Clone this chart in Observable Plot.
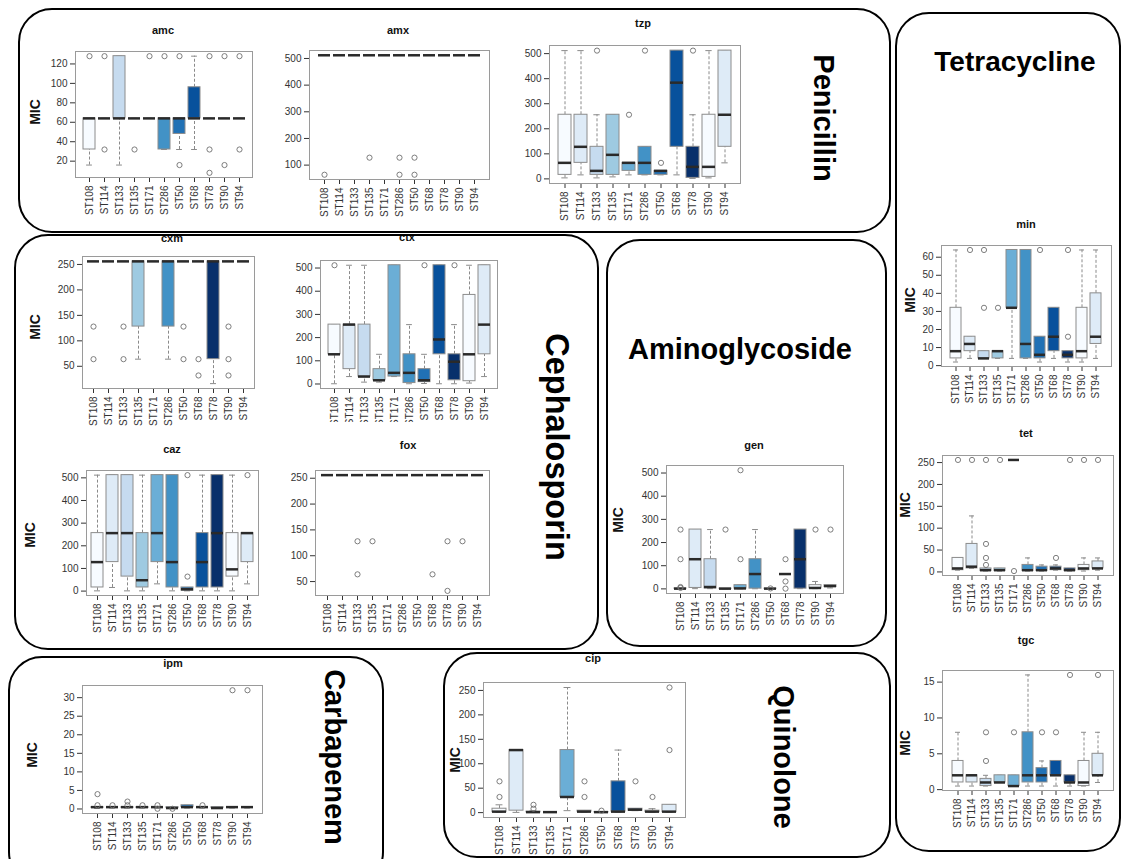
<!DOCTYPE html>
<html><head><meta charset="utf-8">
<script src="https://cdn.jsdelivr.net/npm/d3@7"></script>
<script src="https://cdn.jsdelivr.net/npm/@observablehq/plot@0.6"></script>
<style>
body{margin:0;background:#fff;font-family:"Liberation Sans",Arial,sans-serif}
#root{position:relative;width:1122px;height:859px;overflow:hidden;background:#fff}
.grp{position:absolute;left:0;top:0;width:1122px;height:859px}
.panel{position:absolute;border:2px solid #000;border-radius:34px;box-sizing:border-box}
.glabel{position:absolute;font-weight:bold;font-size:29px;white-space:nowrap;transform:translate(-50%,-50%);color:#000}
.rot{transform:translate(-50%,-50%) rotate(90deg)}
.ptitle{position:absolute;font-weight:bold;font-size:11px;transform:translate(-50%,-50%);color:#111;white-space:nowrap}
.mic{position:absolute;font-weight:bold;font-size:14px;transform:translate(-50%,-50%) rotate(-90deg);color:#111}
.pw{position:absolute}
</style></head><body><div id="root"></div>
<script>
const strains = ["ST108","ST114","ST133","ST135","ST171","ST286","ST50","ST68","ST78","ST90","ST94"];
const strainColors = ["#f7fbff","#deebf7","#c6dbef","#9ecae1","#6baed6","#4292c6","#2171b5","#08519c","#08306b","#f7fbff","#deebf7"];

// each row: [lower whisker, Q1, median, Q3, upper whisker] in strain order
const amc = [[16,32,64,64,64],[64,64,64,64,64],[16,64,64,128,128],[64,64,64,64,64],[64,64,64,64,64],[32,32,64,64,64],[32,48,64,64,64],[32,64,64,96,128],[64,64,64,64,64],[64,64,64,64,64],[64,64,64,64,64]];
const amcOut = [["ST108",128],["ST114",128],["ST114",32],["ST135",32],["ST171",128],["ST286",128],["ST50",128],["ST50",16],["ST78",128],["ST78",32],["ST78",8],["ST90",128],["ST90",16],["ST94",128],["ST94",32]];
const amcTicks = [20,40,60,80,100,120];

const amx = [[512,512,512,512,512],[512,512,512,512,512],[512,512,512,512,512],[512,512,512,512,512],[512,512,512,512,512],[512,512,512,512,512],[512,512,512,512,512],[512,512,512,512,512],[512,512,512,512,512],[512,512,512,512,512],[512,512,512,512,512]];
const amxOut = [["ST108",64],["ST135",128],["ST286",128],["ST286",64],["ST50",128],["ST50",64]];
const amxTicks = [100,200,300,400,500];

const tzp = [[4,16,64,256,512],[16,64,128,256,512],[4,16,32,128,256],[8,16,96,256,256],[16,32,64,64,64],[16,16,64,128,128],[16,16,32,32,32],[16,128,384,512,512],[2,4,48,128,256],[4,8,48,256,512],[64,128,256,512,512]];
const tzpOut = [["ST133",512],["ST171",256],["ST286",512],["ST50",64],["ST78",512]];
const tzpTicks = [0,100,200,300,400,500];

const cxm = [[256,256,256,256,256],[256,256,256,256,256],[256,256,256,256,256],[64,128,256,256,256],[256,256,256,256,256],[64,128,256,256,256],[256,256,256,256,256],[256,256,256,256,256],[16,64,256,256,256],[256,256,256,256,256],[256,256,256,256,256]];
const cxmOut = [["ST108",128],["ST108",64],["ST133",128],["ST133",64],["ST50",128],["ST50",64],["ST68",64],["ST68",32],["ST90",128],["ST90",64],["ST90",32]];
const cxmTicks = [50,100,150,200,250];

const ctx = [[1,128,128,256,256],[32,64,256,256,512],[8,32,32,256,512],[8,16,16,64,128],[32,32,48,512,512],[1,4,48,128,256],[2,8,16,64,128],[1,128,192,512,512],[1,16,96,128,256],[4,12,128,384,512],[32,128,256,512,512]];
const ctxOut = [["ST108",512],["ST50",512],["ST78",512]];
const ctxTicks = [0,100,200,300,400,500];

const caz = [[1,16,128,256,512],[16,128,256,512,512],[1,64,256,512,512],[1,16,48,256,512],[32,128,256,512,512],[1,16,128,512,512],[1,2,8,16,16],[1,16,128,256,512],[1,16,256,512,512],[1,64,96,256,512],[32,128,256,256,256]];
const cazOut = [["ST50",512],["ST50",64],["ST94",512]];
const cazTicks = [0,100,200,300,400,500];

const fox = [[256,256,256,256,256],[256,256,256,256,256],[256,256,256,256,256],[256,256,256,256,256],[256,256,256,256,256],[256,256,256,256,256],[256,256,256,256,256],[256,256,256,256,256],[256,256,256,256,256],[256,256,256,256,256],[256,256,256,256,256]];
const foxOut = [["ST133",128],["ST133",64],["ST135",128],["ST68",64],["ST78",128],["ST78",32],["ST90",128]];
const foxTicks = [50,100,150,200,250];

const gen = [[0.5,0.5,1,2,2],[1,4,128,256,256],[1,2,8,128,256],[0.5,0.5,1,1,1],[0.5,1,2,16,16],[0.5,1,64,128,256],[0.5,0.5,1,1,1],[64,64,64,64,64],[1,1,128,256,256],[1,2,4,16,32],[4,8,12,16,16]];
const genOut = [["ST108",256],["ST108",128],["ST108",8],["ST108",4],["ST135",256],["ST171",512],["ST171",128],["ST50",2],["ST68",128],["ST68",32],["ST68",1],["ST90",256],["ST94",256]];
const genTicks = [0,100,200,300,400,500];

const ipm = [[0.125,0.25,0.5,0.5,0.5],[0.25,0.5,0.5,0.5,0.5],[0.25,0.25,0.5,0.5,0.5],[0.25,0.25,0.5,0.5,0.5],[0.25,0.5,0.5,0.5,0.5],[0.125,0.25,0.25,0.5,0.5],[0.25,0.5,0.5,1,1],[0.25,0.5,0.5,0.5,0.5],[0.25,0.25,0.25,0.5,0.5],[0.25,0.5,0.5,0.5,0.5],[0.25,0.5,0.5,0.5,0.5]];
const ipmOut = [["ST108",4],["ST108",1],["ST114",1],["ST133",2],["ST133",1],["ST135",1],["ST171",1],["ST171",0.06],["ST286",0.06],["ST68",1],["ST90",32],["ST94",32]];
const ipmTicks = [0,5,10,15,20,25,30];

const cip = [[0.25,1,2,8,16],[0.5,4,128,128,128],[0.25,0.5,1,2,4],[0.5,1,1,1,1],[4,32,32,128,256],[1,2,2,4,4],[0.25,0.5,1,1,2],[1,2,2,64,128],[4,4,6,8,8],[0.5,1,2,4,8],[0.5,1,2,16,16]];
const cipOut = [["ST108",64],["ST108",32],["ST133",16],["ST133",8],["ST286",64],["ST286",32],["ST50",4],["ST78",64],["ST90",32],["ST94",256],["ST94",128]];
const cipTicks = [0,50,100,150,200,250];

const minc = [[2,4,8,32,64],[4,8,12,16,16],[4,4,4,8,8],[4,4,8,8,8],[4,32,32,64,64],[4,4,12,64,64],[2,4,6,16,16],[4,8,16,32,32],[2,4,6,8,8],[2,4,8,32,64],[4,12,16,40,64]];
const mincOut = [["ST114",64],["ST133",64],["ST133",32],["ST135",32],["ST50",64],["ST78",64],["ST78",16]];
const mincTicks = [0,10,20,30,40,50,60];

const tet = [[4,4,8,32,32],[8,8,12,64,128],[2,2,4,8,8],[2,2,4,8,8],[256,256,256,256,256],[2,2,4,16,32],[2,2,4,12,16],[4,4,8,12,16],[2,2,4,8,8],[2,4,8,16,32],[4,8,8,24,32]];
const tetOut = [["ST108",256],["ST114",256],["ST133",256],["ST133",64],["ST133",32],["ST133",16],["ST135",256],["ST171",2],["ST68",32],["ST78",256],["ST90",256],["ST94",256]];
const tetTicks = [0,50,100,150,200,250];

const tgc = [[0.5,1,2,4,8],[0.5,1,2,2,2],[0.5,0.5,1,1.5,2],[1,1,1,2,2],[0.5,0.5,0.5,2,2],[0.5,1,2,8,16],[0.5,1,2,3,4],[0.5,2,2,4,4],[0.5,1,1,2,2],[0.5,0.5,1,4,8],[1,2,2,5,8]];
const tgcOut = [["ST133",8],["ST133",4],["ST171",8],["ST50",8],["ST68",8],["ST78",16],["ST94",16]];
const tgcTicks = [0,5,10,15];

const groupNames = ["Penicillin","Cephalosporin","Aminoglycoside","Carbapenem","Quinolone","Tetracycline"];

// ---- layout (positions only) ----
const root = document.getElementById("root");
const panels = [
  {l:18,t:8,w:873,h:225},
  {l:14,t:234,w:585,h:416},
  {l:606,t:239,w:281,h:408},
  {l:8,t:656,w:376,h:230},
  {l:443,t:652,w:448,h:206},
  {l:895,t:12,w:226,h:840}
];
const glabels = [
  {x:823,y:118,rot:true,size:29},
  {x:556,y:447,rot:true,size:32.5},
  {x:740,y:349,rot:false,size:29},
  {x:334,y:757,rot:true,size:29},
  {x:783,y:757,rot:true,size:29},
  {x:1015,y:62,rot:false,size:28}
];
const plots = [
  {name:"amc", s:amc, o:amcOut, tk:amcTicks, f:[75,252,51,177], title:[163,30], mic:[35,112]},
  {name:"amx", s:amx, o:amxOut, tk:amxTicks, f:[309,489,50,179], title:[398,30]},
  {name:"tzp", s:tzp, o:tzpOut, tk:tzpTicks, f:[549,740,45,183], title:[643,23]},
  {name:"cxm", s:cxm, o:cxmOut, tk:cxmTicks, f:[82,254,256,388], title:[172,238], mic:[35,327], clip:[235,427]},
  {name:"ctx", s:ctx, o:ctxOut, tk:ctxTicks, f:[320,497,260,388], title:[407,237], clip:[235,422]},
  {name:"caz", s:caz, o:cazOut, tk:cazTicks, f:[86,258,470,595], title:[172,449], mic:[30,535]},
  {name:"fox", s:fox, o:foxOut, tk:foxTicks, f:[315,489,470,595], title:[408,445]},
  {name:"gen", s:gen, o:genOut, tk:genTicks, f:[666,843,465,593], title:[754,445], mic:[618,520]},
  {name:"ipm", s:ipm, o:ipmOut, tk:ipmTicks, f:[82,262,685,813], title:[173,663], mic:[32,755]},
  {name:"cip", s:cip, o:cipOut, tk:cipTicks, f:[483,685,682,817], title:[593,658], mic:[455,760]},
  {name:"min", s:minc, o:mincOut, tk:mincTicks, f:[941,1111,245,366], title:[1026,224], mic:[910,300]},
  {name:"tet", s:tet, o:tetOut, tk:tetTicks, f:[942,1113,455,575], title:[1026,433], mic:[905,505]},
  {name:"tgc", s:tgc, o:tgcOut, tk:tgcTicks, f:[942,1113,670,790], title:[1026,640], mic:[905,743]}
];

function boxPlot(p){
  const ml=36, mr=2, mt=4, mb=42;
  const [x0,x1,y0,y1] = p.f;
  const W = x1-x0, H = y1-y0;
  const rows = strains.map((s,i)=>({strain:s, lo:p.s[i][0], q1:p.s[i][1], med:p.s[i][2], q3:p.s[i][3], hi:p.s[i][4], color:strainColors[i]}));
  const outRows = p.o.map(([s,v])=>({strain:s, v}));
  const all = p.s.flat().concat(p.o.map(d=>d[1]));
  const mn = d3.min(all), mx = d3.max(all), r = mx-mn;
  const bw = W/11.44*0.8, cap = bw*0.25;
  const wcol = "#8a8a8a";
  const svg = Plot.plot({
    width: W+ml+mr, height: H+mt+mb,
    marginLeft: ml, marginRight: mr, marginTop: mt, marginBottom: mb,
    style: {fontFamily:'"Liberation Sans",Arial,sans-serif', fontSize:"10px", color:"#333", background:"transparent", overflow:"visible"},
    x: {type:"band", domain:strains, paddingInner:0.2, paddingOuter:0.32, label:null, tickRotate:-90, tickSize:5, tickPadding:3},
    y: {domain:[mn-0.04*r, mx+0.04*r], ticks:p.tk, label:null, tickSize:5, tickPadding:3},
    marks: [
      Plot.ruleX(rows, {x:"strain", y1:"q3", y2:"hi", stroke:wcol, strokeDasharray:"3,2"}),
      Plot.ruleX(rows, {x:"strain", y1:"lo", y2:"q1", stroke:wcol, strokeDasharray:"3,2"}),
      Plot.tickY(rows, {x:"strain", y:"hi", stroke:wcol, insetLeft:cap, insetRight:cap}),
      Plot.tickY(rows, {x:"strain", y:"lo", stroke:wcol, insetLeft:cap, insetRight:cap}),
      Plot.barY(rows, {x:"strain", y1:"q1", y2:"q3", fill:d=>d.color, stroke:"#8c8c8c", strokeWidth:1}),
      Plot.tickY(rows, {x:"strain", y:"med", stroke:"#2a2a2a", strokeWidth:2.5}),
      Plot.dot(outRows, {x:"strain", y:"v", r:2.6, stroke:"#6f6f6f", strokeWidth:0.9, fill:"none"}),
      Plot.frame({stroke:"#9a9a9a"})
    ]
  });
  const grp = document.createElement("div");
  grp.className = "grp";
  if (p.clip) grp.style.clipPath = `inset(${p.clip[0]}px 0px ${859-p.clip[1]}px 0px)`;
  const w = document.createElement("div");
  w.className = "pw";
  w.style.left = (x0-ml)+"px"; w.style.top = (y0-mt)+"px";
  w.appendChild(svg);
  grp.appendChild(w);
  const t = document.createElement("div");
  t.className = "ptitle"; t.textContent = p.name;
  t.style.left = p.title[0]+"px"; t.style.top = p.title[1]+"px";
  grp.appendChild(t);
  if (p.mic){
    const m = document.createElement("div");
    m.className = "mic"; m.textContent = "MIC";
    m.style.left = p.mic[0]+"px"; m.style.top = p.mic[1]+"px";
    grp.appendChild(m);
  }
  root.appendChild(grp);
}
plots.forEach(boxPlot);

panels.forEach((b,i)=>{
  const d = document.createElement("div");
  d.className = "panel";
  Object.assign(d.style,{left:b.l+"px",top:b.t+"px",width:b.w+"px",height:b.h+"px"});
  root.appendChild(d);
  const g = glabels[i];
  const L = document.createElement("div");
  L.className = "glabel" + (g.rot ? " rot" : "");
  L.textContent = groupNames[i];
  Object.assign(L.style,{left:g.x+"px",top:g.y+"px",fontSize:g.size+"px"});
  root.appendChild(L);
});
</script></body></html>
